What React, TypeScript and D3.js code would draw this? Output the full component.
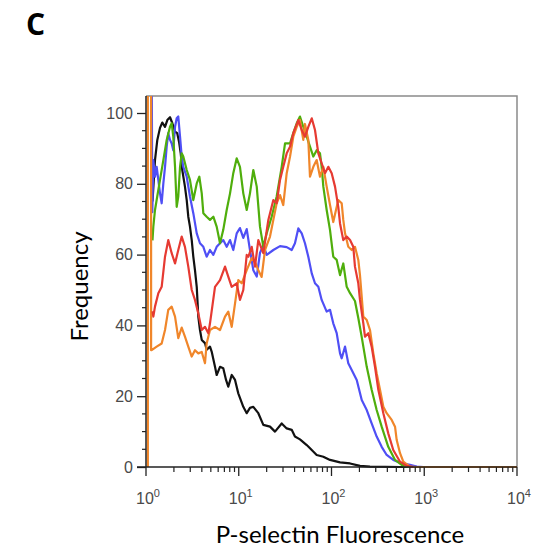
import React, { useEffect, useRef } from "react";
import * as d3 from "d3";

// Histogram traces: [log10(fluorescence), frequency (% of max)]
const blackPts: [number, number][] = [
  [0.07, 75], [0.097, 86.7], [0.122, 92.4], [0.151, 95.8], [0.176, 97.3], [0.205, 96.1], [0.23, 98.0],
  [0.259, 98.8], [0.284, 97.1], [0.313, 94.7], [0.337, 94.3], [0.356, 91.9], [0.374, 88.7], [0.391, 83.9],
  [0.42, 79.2], [0.439, 75.4], [0.456, 70.7], [0.474, 67.9], [0.493, 64.1], [0.51, 59.4], [0.528, 55.6],
  [0.547, 50.9], [0.564, 42.5], [0.582, 38.7], [0.601, 35.9], [0.636, 35.0], [0.654, 33.1], [0.69, 34.0],
  [0.708, 32.6], [0.744, 28.3], [0.762, 26.0], [0.798, 28.3], [0.833, 27.9], [0.863, 24.6], [0.887, 22.7],
  [0.924, 26.0], [0.96, 24.6], [0.995, 20.8], [1.049, 17.0], [1.086, 15.2], [1.121, 16.7], [1.157, 17.0],
  [1.211, 15.2], [1.265, 11.9], [1.337, 11.4], [1.391, 10.0], [1.463, 12.3], [1.517, 10.9], [1.571, 10.5],
  [1.606, 8.6], [1.66, 7.8], [1.733, 6.2], [1.787, 4.8], [1.84, 3.4], [1.912, 2.9], [1.984, 2.0],
  [2.092, 1.3], [2.2, 1.0], [2.307, 0.3], [2.415, 0.1], [2.74, 0], [3.0, 0],
];

const bluePts: [number, number][] = [
  [0.062, 110], [0.068, 72], [0.079, 86.7], [0.097, 82.0], [0.115, 84.8], [0.133, 81.1], [0.151, 77.3],
  [0.169, 74.5], [0.187, 80.1], [0.205, 84.8], [0.223, 90.5], [0.24, 94.3], [0.259, 92.4], [0.277, 91.4],
  [0.294, 89.5], [0.313, 96.1], [0.331, 98.5], [0.348, 99.0], [0.367, 93.3], [0.385, 87.7], [0.402, 84.8],
  [0.439, 82.0], [0.474, 76.4], [0.51, 71.7], [0.547, 66.0], [0.582, 63.2], [0.618, 62.2], [0.654, 59.4],
  [0.69, 61.3], [0.726, 59.9], [0.762, 62.2], [0.798, 63.2], [0.833, 64.1], [0.87, 62.2], [0.906, 64.1],
  [0.941, 61.3], [0.978, 66.0], [1.013, 67.5], [1.049, 64.7], [1.086, 67.2], [1.121, 61.3], [1.157, 55.6],
  [1.194, 53.8], [1.229, 60.5], [1.265, 62.7], [1.301, 59.9], [1.373, 61.3], [1.445, 62.4], [1.517, 62.1],
  [1.571, 61.3], [1.606, 63.2], [1.642, 67.4], [1.679, 66.0], [1.714, 63.2], [1.75, 59.4], [1.787, 54.7],
  [1.822, 51.9], [1.858, 50.9], [1.894, 47.2], [1.948, 43.9], [1.984, 44.4], [2.019, 40.6], [2.056, 37.8],
  [2.092, 32.1], [2.11, 30.7], [2.146, 34.0], [2.181, 29.3], [2.218, 27.4], [2.272, 24.6], [2.326, 18.9],
  [2.38, 16.1], [2.433, 12.3], [2.487, 8.6], [2.541, 5.7], [2.595, 3.4], [2.666, 2.0], [2.739, 1.2],
  [2.846, 0.6], [2.919, 0.1], [2.99, 0],
];

const greenPts: [number, number][] = [
  [0.07, 64], [0.079, 67.9], [0.097, 72.6], [0.151, 81.1], [0.187, 86.7], [0.223, 92.4], [0.259, 96.1],
  [0.277, 97.1], [0.294, 93.3], [0.313, 84.8], [0.331, 73.5], [0.348, 76.4], [0.367, 84.8], [0.385, 88.6],
  [0.402, 87.7], [0.439, 83.9], [0.474, 81.1], [0.51, 75.4], [0.547, 80.1], [0.575, 82.0], [0.601, 77.3],
  [0.618, 71.7], [0.654, 70.7], [0.69, 69.8], [0.726, 70.7], [0.762, 67.9], [0.798, 63.2], [0.833, 67.0],
  [0.87, 72.6], [0.906, 77.3], [0.941, 83.0], [0.978, 87.2], [1.013, 84.8], [1.049, 77.3], [1.086, 72.6],
  [1.121, 77.3], [1.157, 83.9], [1.194, 79.2], [1.229, 67.9], [1.265, 62.2], [1.301, 66.0], [1.355, 70.7],
  [1.409, 76.4], [1.463, 84.8], [1.499, 91.4], [1.553, 91.4], [1.588, 94.3], [1.625, 97.1], [1.66, 99.0],
  [1.696, 96.1], [1.733, 93.3], [1.768, 90.5], [1.804, 87.7], [1.84, 89.5], [1.876, 88.6], [1.894, 84.8],
  [1.912, 79.2], [1.948, 72.6], [1.984, 66.9], [2.019, 59.4], [2.056, 58.5], [2.092, 54.2], [2.127, 57.5],
  [2.164, 50.9], [2.2, 49.1], [2.253, 46.9], [2.289, 42.1], [2.326, 36.7], [2.38, 28.3], [2.433, 21.8],
  [2.487, 16.1], [2.541, 11.4], [2.612, 5.7], [2.685, 2.0], [2.757, 0.6], [2.811, 0.1], [2.87, 0],
];

const redPts: [number, number][] = [
  [0.07, 44], [0.079, 42.5], [0.097, 45.3], [0.133, 49.1], [0.169, 50.9], [0.205, 59.4], [0.24, 64.1],
  [0.277, 60.4], [0.313, 57.5], [0.348, 61.3], [0.385, 65.1], [0.42, 62.2], [0.456, 56.6], [0.493, 50.0],
  [0.528, 47.2], [0.564, 43.4], [0.601, 38.7], [0.636, 39.6], [0.672, 37.8], [0.69, 40.6], [0.744, 50.9],
  [0.798, 52.8], [0.852, 56.6], [0.887, 53.8], [0.924, 50.9], [0.978, 51.9], [1.013, 47.2], [1.049, 50.0],
  [1.086, 59.9], [1.104, 59.4], [1.14, 62.2], [1.175, 56.6], [1.211, 64.1], [1.265, 60.4], [1.319, 69.8],
  [1.373, 75.4], [1.409, 74.5], [1.445, 81.1], [1.48, 84.8], [1.517, 88.6], [1.553, 90.5], [1.588, 94.3],
  [1.642, 98.0], [1.679, 95.2], [1.714, 93.3], [1.75, 96.1], [1.787, 98.5], [1.822, 95.2], [1.858, 88.6],
  [1.894, 85.8], [1.93, 83.0], [1.966, 84.8], [2.002, 83.0], [2.038, 79.2], [2.073, 73.5], [2.092, 68.8],
  [2.127, 64.1], [2.164, 65.1], [2.2, 64.1], [2.235, 62.2], [2.253, 56.6], [2.289, 51.9], [2.307, 47.2],
  [2.343, 40.6], [2.361, 36.8], [2.397, 37.8], [2.433, 34.0], [2.469, 28.3], [2.505, 21.8], [2.559, 15.2],
  [2.612, 9.5], [2.666, 4.8], [2.739, 1.5], [2.811, 0.3], [2.88, 0],
];

const orangePts: [number, number][] = [
  [0.02, 0], [0.02, 110], [0.055, 110], [0.055, 33], [0.061, 33.0], [0.115, 34.0], [0.169, 34.9],
  [0.205, 38.7], [0.24, 44.4], [0.277, 45.3], [0.313, 42.5], [0.348, 36.4], [0.385, 39.4], [0.42, 36.8],
  [0.456, 34.0], [0.493, 31.2], [0.528, 33.0], [0.564, 32.1], [0.601, 32.5], [0.636, 29.3], [0.654, 34.9],
  [0.69, 38.7], [0.744, 39.6], [0.798, 38.7], [0.852, 42.5], [0.887, 43.9], [0.924, 39.6], [0.96, 46.2],
  [0.995, 52.8], [1.032, 51.9], [1.086, 55.6], [1.14, 59.0], [1.175, 57.9], [1.211, 55.6], [1.247, 53.7],
  [1.283, 61.3], [1.337, 65.1], [1.373, 69.8], [1.409, 74.5], [1.445, 76.8], [1.48, 74.0], [1.517, 83.0],
  [1.553, 87.7], [1.588, 93.3], [1.625, 96.1], [1.66, 98.0], [1.696, 92.4], [1.714, 96.9], [1.75, 92.4],
  [1.768, 82.0], [1.804, 84.8], [1.84, 86.7], [1.876, 82.0], [1.912, 84.8], [1.948, 79.2], [1.984, 74.0],
  [2.019, 69.2], [2.073, 75.4], [2.11, 74.5], [2.127, 69.8], [2.146, 66.0], [2.181, 62.2], [2.218, 61.3],
  [2.253, 62.2], [2.289, 58.5], [2.307, 54.2], [2.343, 42.5], [2.38, 41.5], [2.415, 38.7], [2.451, 32.1],
  [2.487, 26.5], [2.523, 21.8], [2.559, 17.0], [2.595, 15.2], [2.649, 13.3], [2.685, 11.4], [2.703, 7.6],
  [2.739, 3.9], [2.774, 1.5], [2.846, 0.1], [2.919, 0], [4.0, 0],
];

const seriesList = [
  { name: "black", pts: blackPts, color: "#111111" },
  { name: "blue", pts: bluePts, color: "#4f4ff5" },
  { name: "green", pts: greenPts, color: "#4fae0c" },
  { name: "orange", pts: orangePts, color: "#f0862a" },
  { name: "red", pts: redPts, color: "#e63a32" },
];

const yTickValues = [0, 20, 40, 60, 80, 100];
const xDecades = [0, 1, 2, 3, 4];

export default function App() {
  const ref = useRef<SVGSVGElement | null>(null);

  useEffect(() => {
    const svg = d3.select(ref.current);
    svg.selectAll("*").remove();

    const left = 146, right = 517, top = 96, bottom = 467;
    const x = d3.scaleLog().domain([1, 1e4]).range([left, right]);
    const y = d3.scaleLinear().domain([0, 100]).range([bottom, 113]);

    svg.append("defs").append("clipPath").attr("id", "plotClip")
      .append("rect").attr("x", left).attr("y", top).attr("width", right - left).attr("height", bottom - top + 2);

    // panel letter
    svg.append("text").attr("x", 26).attr("y", 35)
      .attr("font-family", "'Open Sans', 'Liberation Sans', sans-serif").attr("font-weight", "bold")
      .attr("font-size", 30).attr("fill", "#000").text("C");

    // frame (top and right)
    svg.append("path")
      .attr("d", `M${left},${top}H${right}V${bottom}`)
      .attr("fill", "none").attr("stroke", "#8a8a8a").attr("stroke-width", 1.5);

    // traces
    const line = d3.line<[number, number]>()
      .x((p) => x(Math.pow(10, p[0])))
      .y((p) => y(p[1]));
    const g = svg.append("g").attr("clip-path", "url(#plotClip)");
    seriesList.forEach((s) => {
      g.append("path").attr("d", line(s.pts) as string)
        .attr("fill", "none").attr("stroke", s.color).attr("stroke-width", 2.2)
        .attr("stroke-linejoin", "round");
    });

    // y axis
    const yAxis = d3.axisLeft(y).tickValues(yTickValues).tickSize(9).tickPadding(4).tickSizeOuter(0);
    const yg = svg.append("g").attr("transform", `translate(${left},0)`).call(yAxis);
    yg.select(".domain").attr("d", `M0,${top}V${bottom}`).attr("stroke", "#222").attr("stroke-width", 1.5);
    yg.selectAll(".tick line").attr("stroke", "#222").attr("stroke-width", 1.3);
    yg.selectAll(".tick text").attr("font-family", "'Liberation Sans', Arial, sans-serif")
      .attr("font-size", 16).attr("fill", "#4a4a4a");
    const yMinor = d3.range(0, 105, 5).filter((v) => v % 20 !== 0);
    yg.selectAll(".minor").data(yMinor).enter().append("line")
      .attr("x1", -4).attr("x2", 0).attr("y1", (v) => y(v)).attr("y2", (v) => y(v))
      .attr("stroke", "#222").attr("stroke-width", 1.2);

    // x axis
    const xg = svg.append("g").attr("transform", `translate(0,${bottom})`);
    xg.append("line").attr("x1", left - 9).attr("x2", right).attr("y1", 0).attr("y2", 0)
      .attr("stroke", "#222").attr("stroke-width", 1.5);
    const majors = xDecades.map((e) => Math.pow(10, e));
    const minors: number[] = [];
    xDecades.slice(0, -1).forEach((e) => {
      for (let k = 2; k <= 9; k++) minors.push(k * Math.pow(10, e));
    });
    xg.selectAll(".xmaj").data(majors).enter().append("line")
      .attr("x1", (v) => x(v)).attr("x2", (v) => x(v)).attr("y1", 0).attr("y2", 9)
      .attr("stroke", "#222").attr("stroke-width", 1.3);
    xg.selectAll(".xmin").data(minors).enter().append("line")
      .attr("x1", (v) => x(v)).attr("x2", (v) => x(v)).attr("y1", 0).attr("y2", 5)
      .attr("stroke", "#222").attr("stroke-width", 1.2);
    const labels = xg.selectAll(".xlab").data(xDecades).enter().append("text")
      .attr("x", (e) => x(Math.pow(10, e)) + 2).attr("y", 37)
      .attr("text-anchor", "middle")
      .attr("font-family", "'Liberation Sans', Arial, sans-serif")
      .attr("font-size", 16).attr("fill", "#4a4a4a");
    labels.append("tspan").text("10");
    labels.append("tspan").attr("dy", -7).attr("font-size", 11).text((e) => String(e));

    // axis titles
    svg.append("text")
      .attr("transform", `translate(88,${(top + bottom) / 2 + 5}) rotate(-90)`)
      .attr("text-anchor", "middle")
      .attr("font-family", "Lato, 'Open Sans', sans-serif").attr("font-size", 24).attr("fill", "#000")
      .text("Frequency");
    svg.append("text").attr("x", 340).attr("y", 543)
      .attr("text-anchor", "middle")
      .attr("font-family", "Lato, 'Open Sans', sans-serif").attr("font-size", 24).attr("fill", "#000")
      .text("P-selectin Fluorescence");
  }, []);

  return (
    <svg ref={ref} width={533} height={551}
      style={{ position: "absolute", left: 0, top: 0, background: "#fff" }} />
  );
}
